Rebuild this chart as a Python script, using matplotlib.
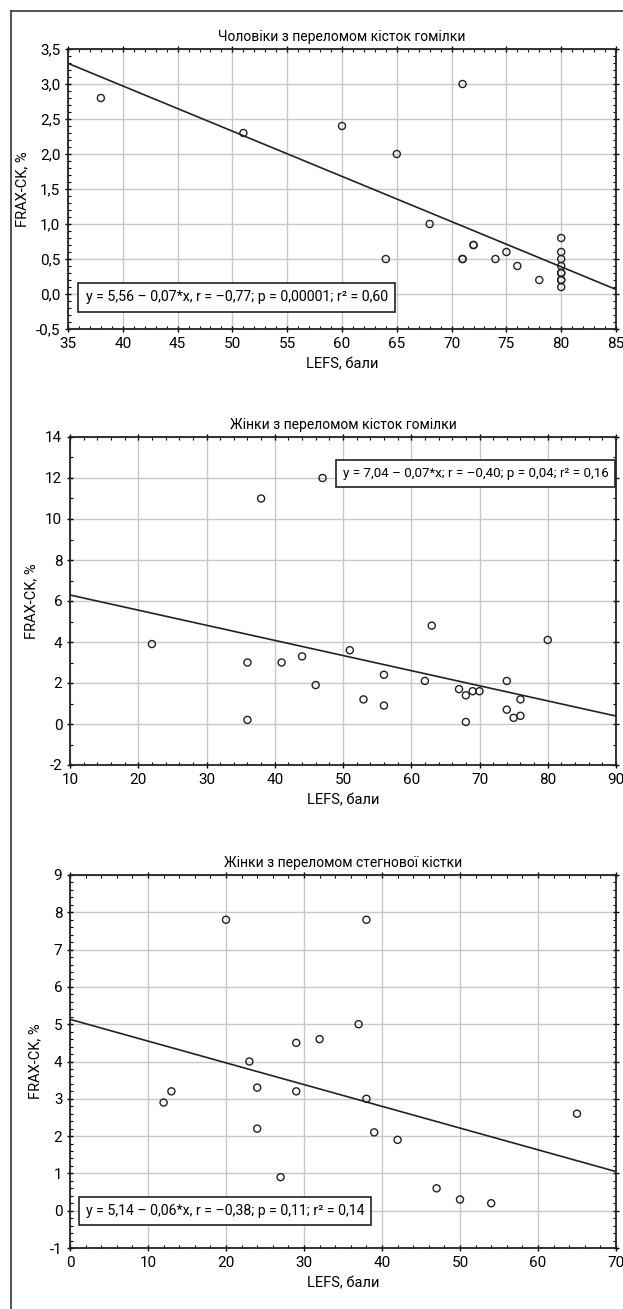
import matplotlib
matplotlib.use("Agg")
import matplotlib.pyplot as plt
from matplotlib.ticker import MultipleLocator, FuncFormatter
from matplotlib.lines import Line2D

plt.rcParams["font.family"] = ["Roboto", "DejaVu Sans"]
plt.rcParams["axes.unicode_minus"] = False

# ---------------- DATA ----------------
titles = [
    "Чоловіки з переломом кісток гомілки",
    "Жінки з переломом кісток гомілки",
    "Жінки з переломом стегнової кістки",
]

# men, shin fracture
men_lefs = [38, 51, 60, 64, 65, 68, 71, 71, 71, 72, 72, 74, 75, 76, 78,
            80, 80, 80, 80, 80, 80, 80, 80, 80]
men_frax = [2.8, 2.3, 2.4, 0.5, 2.0, 1.0, 3.0, 0.5, 0.5, 0.7, 0.7, 0.5, 0.6, 0.4, 0.2,
            0.8, 0.6, 0.5, 0.4, 0.3, 0.3, 0.2, 0.2, 0.1]

# women, shin fracture
women_shin_lefs = [22, 36, 36, 38, 41, 44, 46, 47, 51, 53, 56, 56, 62, 63,
                   67, 68, 68, 69, 70, 74, 74, 75, 76, 76, 80]
women_shin_frax = [3.9, 3.0, 0.2, 11.0, 3.0, 3.3, 1.9, 12.0, 3.6, 1.2, 2.4, 0.9, 2.1, 4.8,
                   1.7, 1.4, 0.1, 1.6, 1.6, 2.1, 0.7, 0.3, 1.2, 0.4, 4.1]

# women, femur fracture
women_hip_lefs = [12, 13, 20, 23, 24, 24, 27, 29, 29, 32, 37, 38, 38, 39, 42, 47, 50, 54, 65]
women_hip_frax = [2.9, 3.2, 7.8, 4.0, 3.3, 2.2, 0.9, 4.5, 3.2, 4.6, 5.0, 7.8, 3.0, 2.1, 1.9,
                  0.6, 0.3, 0.2, 2.6]

# regression lines (intercept, slope) as drawn
intercepts = [5.556, 7.03, 5.13]
slopes = [-0.0646, -0.0738, -0.0583]

labels = [
    "y = 5,56 – 0,07*x, r = –0,77; p = 0,00001; r² = 0,60",
    "y = 7,04 – 0,07*x; r = –0,40; p = 0,04; r² = 0,16",
    "y = 5,14 – 0,06*x, r = –0,38; p = 0,11; r² = 0,14",
]

xs = [men_lefs, women_shin_lefs, women_hip_lefs]
ys = [men_frax, women_shin_frax, women_hip_frax]

xlims = [(35, 85), (10, 90), (0, 70)]
ylims = [(-0.5, 3.5), (-2, 14), (-1, 9)]
xmajor = [5, 10, 10]
xminor = [1, 2, 2]
ymajor = [0.5, 2, 1]
yminor = [0.1, 1, 0.2]
ydec = [1, 0, 0]

# label anchor positions (data coords), alignment and size
label_pos = [(36.6, -0.05), (88.9, 12.22), (2.0, 0.0)]
label_ha = ["left", "right", "left"]
label_size = [10.2, 9.6, 10.2]

# axes rectangles in pixels: left, top, right, bottom
W, H = 623, 1309
rects = [(68, 49, 616, 329), (70, 437, 616, 765), (70, 875, 616, 1248)]

# ---------------- PLOT ----------------
fig = plt.figure(figsize=(W / 100, H / 100), dpi=100)

# outer frame (only top and left visible)
fig.add_artist(Line2D([11 / W, 1.0], [1 - 11 / H, 1 - 11 / H], color="#333333", lw=1.2,
                      transform=fig.transFigure))
fig.add_artist(Line2D([11 / W, 11 / W], [0, 1 - 11 / H], color="#333333", lw=1.2,
                      transform=fig.transFigure))

for i in range(3):
    l, t, r, b = rects[i]
    ax = fig.add_axes([l / W, 1 - b / H, (r - l) / W, (b - t) / H])

    ax.set_xlim(*xlims[i])
    ax.set_ylim(*ylims[i])
    ax.xaxis.set_major_locator(MultipleLocator(xmajor[i]))
    ax.xaxis.set_minor_locator(MultipleLocator(xminor[i]))
    ax.yaxis.set_major_locator(MultipleLocator(ymajor[i]))
    ax.yaxis.set_minor_locator(MultipleLocator(yminor[i]))

    d = ydec[i]
    ax.yaxis.set_major_formatter(FuncFormatter(lambda v, p, d=d: f"{v:.{d}f}".replace(".", ",")))
    ax.xaxis.set_major_formatter(FuncFormatter(lambda v, p: f"{v:.0f}"))

    ax.grid(True, which="major", color="#c8c8c8", lw=1.0)
    ax.set_axisbelow(True)

    ax.tick_params(which="major", direction="inout", length=5, width=1, labelsize=11,
                   top=True, right=True, pad=3)
    ax.tick_params(which="minor", direction="in", length=2.5, width=0.8, top=True, right=True)
    for s in ax.spines.values():
        s.set_linewidth(1.3)
        s.set_color("#222222")

    x0, x1 = xlims[i]
    ax.plot([x0, x1], [intercepts[i] + slopes[i] * x0, intercepts[i] + slopes[i] * x1],
            color="#222222", lw=1.2, zorder=3)

    ax.scatter(xs[i], ys[i], s=26, facecolors="none", edgecolors="#222222",
               linewidths=1.0, zorder=4)

    ax.text(label_pos[i][0], label_pos[i][1], labels[i], fontsize=label_size[i],
            ha=label_ha[i], va="center", zorder=5,
            bbox=dict(boxstyle="square,pad=0.5", fc="white", ec="#222222", lw=1.2))

    ax.set_title(titles[i], fontsize=10, pad=6)
    ax.set_xlabel("LEFS, бали", fontsize=10.5, labelpad=5)
    ax.set_ylabel("FRAX-CK, %", fontsize=10.5, labelpad=5)

plt.savefig("out.png", dpi=100)
plt.close()
